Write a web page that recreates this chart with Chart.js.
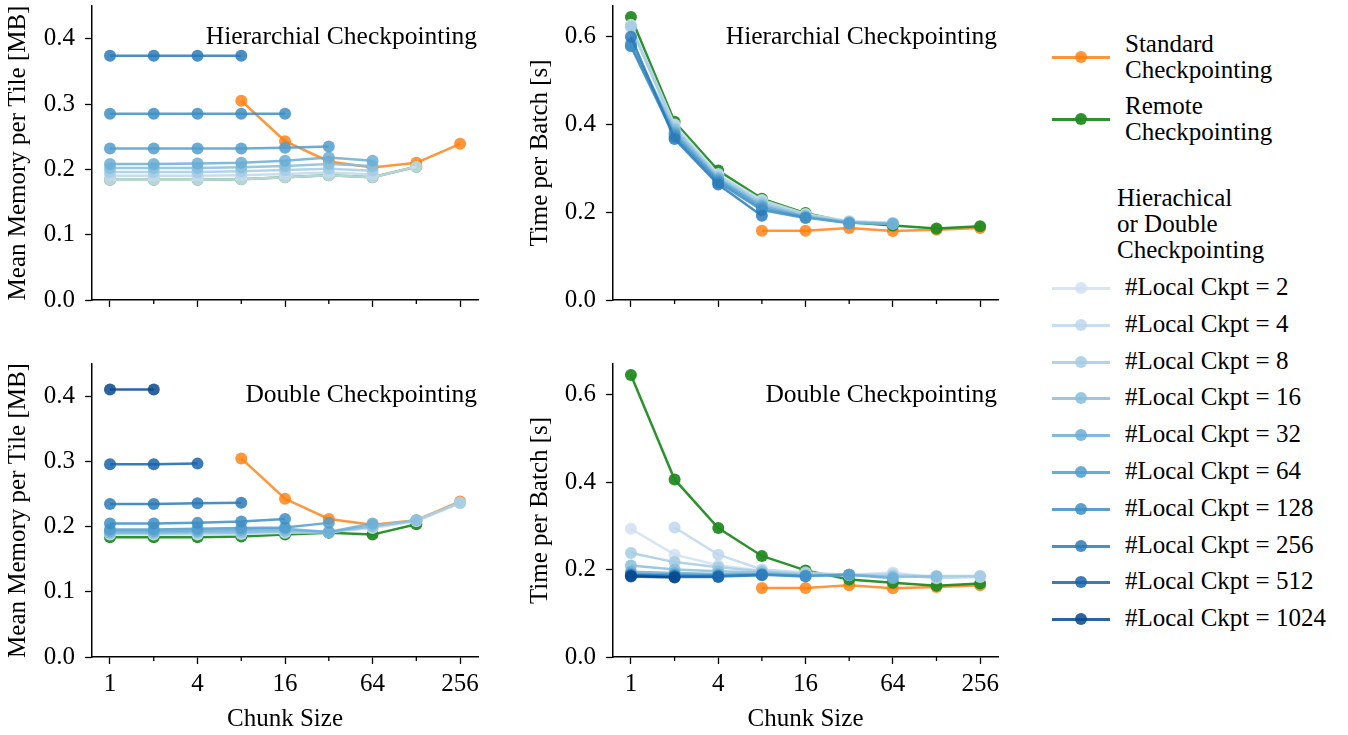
<!DOCTYPE html>
<html>
<head>
<meta charset="utf-8">
<script src="https://cdn.jsdelivr.net/npm/chart.js@4.4.0/dist/chart.umd.min.js"></script>
<style>
body { margin:0; width:1348px; height:735px; background:#fff; position:relative; overflow:hidden; font-family:"Liberation Serif", serif; }
canvas { position:absolute; }
.leg { position:absolute; font-size:25px; line-height:26px; color:#000; }
.key { position:absolute; width:58px; height:3px; }
.key i { position:absolute; left:23px; top:-5px; width:12px; height:12px; border-radius:50%; }
</style>
</head>
<body>
<canvas id="memHier" width="490" height="330" style="left:0;top:0"></canvas>
<canvas id="timeHier" width="510" height="330" style="left:500px;top:0"></canvas>
<canvas id="memDouble" width="490" height="377" style="left:0;top:358px"></canvas>
<canvas id="timeDouble" width="510" height="377" style="left:500px;top:358px"></canvas>
<div id="legend"></div>
<script>
// chunk sizes on the x axis
var chunks = [1, 2, 4, 8, 16, 32, 64, 128, 256];
var majorChunks = [1, 4, 16, 64, 256];
var minorChunks = [2, 8, 32, 128];
var nLocal = [2, 4, 8, 16, 32, 64, 128, 256, 512, 1024];

var standardMem  = [null, null, null, 0.305, 0.243, 0.212, 0.203, 0.210, 0.239];
var remoteMem    = [0.184, 0.184, 0.184, 0.185, 0.188, 0.191, 0.188, 0.204, null];
var standardTime = [null, null, null, 0.158, 0.158, 0.164, 0.157, 0.160, 0.164];
var remoteTime   = [0.645, 0.406, 0.295, 0.231, 0.198, 0.177, 0.170, 0.163, 0.168];

// one row per #local ckpt (2 ... 1024)
var hierMem = [
  [0.184, 0.184, 0.184, 0.185, 0.188, 0.191, 0.188, 0.204],
  [0.190, 0.190, 0.190, 0.191, 0.193, 0.195, 0.192],
  [0.196, 0.196, 0.196, 0.197, 0.199, 0.201, 0.198],
  [0.202, 0.202, 0.202, 0.203, 0.205, 0.208, 0.205],
  [0.208, 0.208, 0.209, 0.210, 0.213, 0.218, 0.213],
  [0.232, 0.232, 0.232, 0.232, 0.233, 0.235],
  [0.285, 0.285, 0.285, 0.285, 0.285],
  [0.374, 0.374, 0.374, 0.374],
  [],
  []
];
var hierTime = [
  [0.627, 0.400, 0.287, 0.228, 0.196, 0.180, 0.176],
  [0.625, 0.396, 0.284, 0.225, 0.194, 0.179, 0.175],
  [0.622, 0.392, 0.281, 0.222, 0.193, 0.178, 0.175],
  [0.585, 0.388, 0.278, 0.218, 0.191, 0.177, 0.174],
  [0.582, 0.382, 0.275, 0.214, 0.189, 0.176, 0.173],
  [0.580, 0.377, 0.272, 0.210, 0.188, 0.175],
  [0.578, 0.372, 0.268, 0.205, 0.187],
  [0.600, 0.367, 0.263, 0.192],
  [],
  []
];
var doubleMem = [
  [0.188, 0.188, 0.188, 0.189, 0.191, 0.192, 0.198, 0.209, 0.236],
  [0.189, 0.189, 0.189, 0.190, 0.192, 0.192, 0.199, 0.209, 0.237],
  [0.190, 0.190, 0.191, 0.191, 0.193, 0.192, 0.200, 0.210, 0.237],
  [0.191, 0.191, 0.192, 0.192, 0.194, 0.192, 0.201, 0.210],
  [0.193, 0.193, 0.194, 0.195, 0.197, 0.192, 0.205],
  [0.196, 0.196, 0.197, 0.198, 0.199, 0.206],
  [0.205, 0.205, 0.206, 0.208, 0.212],
  [0.235, 0.235, 0.236, 0.237],
  [0.296, 0.296, 0.297],
  [0.411, 0.411]
];
var doubleTime = [
  [0.293, 0.234, 0.210, 0.197, 0.190, 0.188, 0.193, 0.182, 0.183],
  [null, 0.296, 0.234, 0.200, 0.193, 0.188, 0.190, 0.180, 0.184],
  [0.238, 0.217, 0.205, 0.196, 0.189, 0.187, 0.186, 0.185, 0.185],
  [0.209, 0.200, 0.196, 0.193, 0.187, 0.188, 0.183, 0.184],
  [0.195, 0.192, 0.190, 0.190, 0.186, 0.188, 0.180],
  [0.190, 0.188, 0.187, 0.189, 0.185, 0.188],
  [0.188, 0.186, 0.185, 0.188, 0.184],
  [0.187, 0.185, 0.184, 0.187],
  [0.186, 0.183, 0.183],
  [0.184, 0.182]
];

var orange = 'rgba(255,127,14,0.82)';
var green = 'rgba(34,140,34,0.95)';
var blues = [
  'rgba(208,225,242,0.85)', 'rgba(190,215,236,0.85)', 'rgba(165,204,228,0.85)',
  'rgba(136,190,220,0.85)', 'rgba(107,174,214,0.85)', 'rgba(82,157,204,0.85)',
  'rgba(62,142,196,0.85)', 'rgba(42,122,185,0.85)', 'rgba(23,100,171,0.85)',
  'rgba(8,72,142,0.85)'
];
var font = { family: '"Liberation Serif", serif', size: 25 };

function series(label, vals, color) {
  var pts = [];
  chunks.forEach(function (c, i) {
    if (vals[i] != null) pts.push({ x: c, y: vals[i] });
  });
  return {
    label: label, data: pts, borderColor: color, backgroundColor: color,
    borderWidth: 2.5, pointRadius: 6, pointBorderWidth: 0, tension: 0
  };
}

function buildSets(std, rem, blueRows) {
  var sets = [series('Standard Checkpointing', std, orange), series('Remote Checkpointing', rem, green)];
  blueRows.forEach(function (row, k) {
    if (row.length) sets.push(series('#Local Ckpt = ' + nLocal[k], row, blues[k]));
  });
  // later series sit on top
  sets.forEach(function (s, i) { s.order = -i; });
  return sets;
}

var panelDeco = {
  id: 'panelDeco',
  afterDraw: function (chart, args, opts) {
    var ctx = chart.ctx, x = chart.scales.x, b = chart.chartArea.bottom;
    ctx.save();
    ctx.strokeStyle = '#000';
    ctx.lineWidth = 1.3;
    minorChunks.forEach(function (v) {
      var p = x.getPixelForValue(v);
      ctx.beginPath(); ctx.moveTo(p, b); ctx.lineTo(p, b + 4); ctx.stroke();
    });
    ctx.fillStyle = '#000';
    ctx.font = '25.5px "Liberation Serif", serif';
    ctx.textAlign = 'right';
    ctx.textBaseline = 'middle';
    ctx.fillText(opts.text, chart.chartArea.right - 1, chart.chartArea.top + 31);
    ctx.restore();
  }
};

function noPad(s) { s.paddingTop = 0; s.paddingBottom = 0; s.paddingLeft = 0; s.paddingRight = 0; }

function panel(id, sets, o) {
  new Chart(document.getElementById(id), {
    type: 'line',
    data: { datasets: sets },
    plugins: [panelDeco],
    options: {
      responsive: false, animation: false,
      layout: { padding: { top: o.padTop, right: 12, left: 0, bottom: 0 } },
      scales: {
        x: {
          type: 'logarithmic', min: 0.752, max: 340,
          afterBuildTicks: function (s) { s.ticks = majorChunks.map(function (v) { return { value: v }; }); },
          afterFit: function (s) { s.height = o.xH; noPad(s); },
          ticks: { display: o.showX, font: font, color: '#000', padding: 5, maxRotation: 0, autoSkip: false,
                   callback: function (v) { return String(v); } },
          grid: { drawOnChartArea: false, tickLength: 7, tickColor: '#000', tickWidth: 1.3 },
          border: { color: '#000', width: 1.5 },
          title: { display: o.showX, text: 'Chunk Size', font: font, color: '#000', padding: { top: 0, bottom: 1 } }
        },
        y: {
          min: 0, max: o.yMax,
          afterBuildTicks: function (s) { s.ticks = o.yTicks.map(function (v) { return { value: v }; }); },
          afterFit: function (s) { s.width = o.yW; noPad(s); },
          ticks: { font: font, color: '#000', padding: 10, callback: function (v) { return v.toFixed(1); } },
          grid: { drawOnChartArea: false, tickLength: 7, tickColor: '#000', tickWidth: 1.3 },
          border: { color: '#000', width: 1.5 },
          title: { display: true, text: o.yTitle, font: font, color: '#000', padding: { top: o.yTitlePad, bottom: 0 } }
        }
      },
      plugins: { legend: { display: false }, tooltip: { enabled: false }, panelDeco: { text: o.title } }
    }
  });
}

var memTicks = [0, 0.1, 0.2, 0.3, 0.4];
var timeTicks = [0, 0.2, 0.4, 0.6];

panel('memHier', buildSets(standardMem, remoteMem, hierMem),
  { title: 'Hierarchial Checkpointing', yTitle: 'Mean Memory per Tile [MB]', yMax: 0.45, yTicks: memTicks, yW: 92, yTitlePad: 3, xH: 30, padTop: 0, showX: false });
panel('timeHier', buildSets(standardTime, remoteTime, hierTime),
  { title: 'Hierarchial Checkpointing', yTitle: 'Time per Batch [s]', yMax: 0.67, yTicks: timeTicks, yW: 113, yTitlePad: 25, xH: 30, padTop: 0, showX: false });
panel('memDouble', buildSets(standardMem, remoteMem, doubleMem),
  { title: 'Double Checkpointing', yTitle: 'Mean Memory per Tile [MB]', yMax: 0.45, yTicks: memTicks, yW: 92, yTitlePad: 3, xH: 78, padTop: 2, showX: true });
panel('timeDouble', buildSets(standardTime, remoteTime, doubleTime),
  { title: 'Double Checkpointing', yTitle: 'Time per Batch [s]', yMax: 0.67, yTicks: timeTicks, yW: 113, yTitlePad: 25, xH: 78, padTop: 2, showX: true });

// legend at the right
var legend = document.getElementById('legend');
function addKey(color, y) {
  var k = document.createElement('div');
  k.className = 'key';
  k.style.left = '1052px'; k.style.top = (y - 1) + 'px'; k.style.background = color;
  var dot = document.createElement('i');
  dot.style.background = color;
  k.appendChild(dot);
  legend.appendChild(k);
}
function addText(html, x, y) {
  var t = document.createElement('div');
  t.className = 'leg';
  t.style.left = x + 'px'; t.style.top = y + 'px';
  t.innerHTML = html;
  legend.appendChild(t);
}
addKey(orange, 57); addText('Standard<br>Checkpointing', 1125, 31);
addKey(green, 119); addText('Remote<br>Checkpointing', 1125, 93);
addText('Hierachical<br>or Double<br>Checkpointing', 1117, 185);
nLocal.forEach(function (n, k) {
  var y = 288 + k * 36.8;
  addKey(blues[k], y);
  addText('#Local Ckpt = ' + n, 1125, y - 14);
});
</script>
</body>
</html>
